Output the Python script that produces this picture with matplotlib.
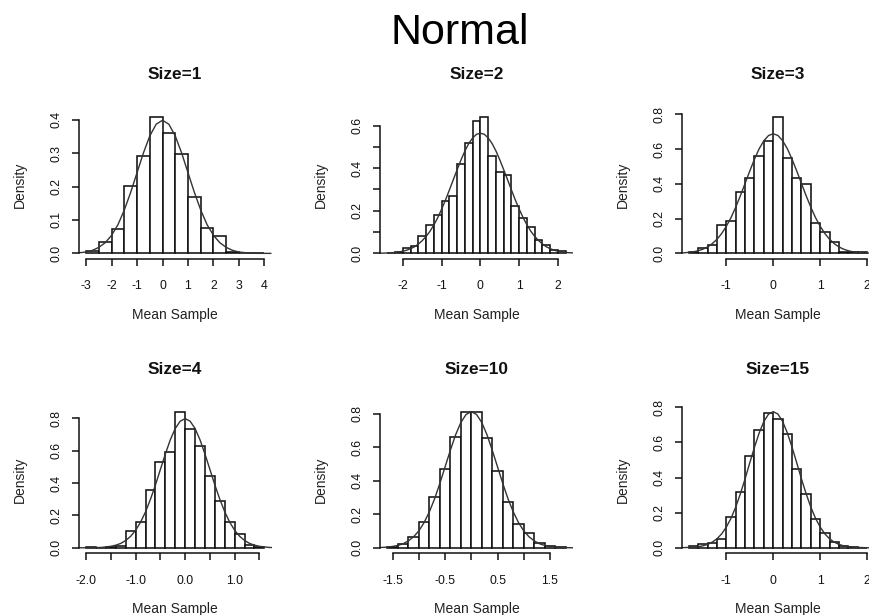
import numpy as np
import matplotlib.pyplot as plt

plt.rcParams['font.family'] = ['Liberation Sans', 'DejaVu Sans']

W, H = 869, 615

main_title = "Normal"
sizes = [1, 2, 3, 4, 10, 15]

# histogram bins: first edge and width, densities
bin_start = [-3.0, -2.4, -1.8, -2.0, -1.6, -1.8]
bin_width = [0.5, 0.2, 0.2, 0.2, 0.2, 0.2]

dens_1 = [0.008, 0.033, 0.072, 0.201, 0.291, 0.408, 0.360, 0.298, 0.170, 0.075,
          0.051, 0.003, 0.0, 0.002]
dens_2 = [0.003, 0.006, 0.025, 0.036, 0.080, 0.132, 0.180, 0.248, 0.271, 0.419,
          0.519, 0.621, 0.639, 0.458, 0.382, 0.369, 0.220, 0.165, 0.125, 0.064,
          0.040, 0.017, 0.011]
dens_3 = [0.008, 0.032, 0.046, 0.164, 0.189, 0.354, 0.436, 0.558, 0.648, 0.783,
          0.547, 0.436, 0.400, 0.177, 0.122, 0.067, 0.010, 0.008, 0.006]
dens_4 = [0.006, 0.0, 0.006, 0.010, 0.103, 0.161, 0.355, 0.532, 0.590, 0.841,
          0.732, 0.629, 0.443, 0.291, 0.161, 0.082, 0.016, 0.006]
dens_5 = [0.006, 0.022, 0.066, 0.156, 0.301, 0.471, 0.665, 0.814, 0.814, 0.659,
          0.459, 0.271, 0.144, 0.086, 0.026, 0.010, 0.003]
dens_6 = [0.010, 0.019, 0.029, 0.048, 0.177, 0.320, 0.524, 0.669, 0.768, 0.735,
          0.650, 0.450, 0.307, 0.162, 0.082, 0.034, 0.008, 0.004, 0.0]

# density curves at regular x steps
curve_start = [-3.25, -2.6, -2.0, -2.2, -1.8, -2.0]
curve_step = [0.25, 0.1, 0.1, 0.1, 0.1, 0.1]

curve_1 = [0.002, 0.004, 0.009, 0.018, 0.032, 0.054, 0.086, 0.130, 0.183, 0.242,
           0.301, 0.352, 0.387, 0.399, 0.387, 0.352, 0.301, 0.242, 0.183, 0.130,
           0.086, 0.054, 0.032, 0.018, 0.009, 0.004, 0.002, 0.001, 0.000, 0.000,
           0.000]
curve_2 = [0.001, 0.001, 0.002, 0.003, 0.004, 0.007, 0.010, 0.015, 0.022, 0.031,
           0.044, 0.060, 0.080, 0.104, 0.134, 0.168, 0.208, 0.251, 0.298, 0.346,
           0.393, 0.439, 0.481, 0.516, 0.542, 0.559, 0.564, 0.559, 0.542, 0.516,
           0.481, 0.439, 0.393, 0.346, 0.298, 0.251, 0.208, 0.168, 0.134, 0.104,
           0.080, 0.060, 0.044, 0.031, 0.022, 0.015, 0.010, 0.007, 0.004, 0.003,
           0.002]
curve_3 = [0.002, 0.003, 0.006, 0.009, 0.015, 0.024, 0.037, 0.056, 0.081, 0.114,
           0.156, 0.206, 0.266, 0.332, 0.403, 0.474, 0.542, 0.602, 0.648, 0.678,
           0.688, 0.678, 0.648, 0.602, 0.542, 0.474, 0.403, 0.332, 0.266, 0.206,
           0.156, 0.114, 0.081, 0.056, 0.037, 0.024, 0.015, 0.009, 0.006, 0.003,
           0.002, 0.001, 0.001]
curve_4 = [0.000, 0.000, 0.000, 0.001, 0.001, 0.002, 0.005, 0.009, 0.016, 0.027,
           0.045, 0.071, 0.108, 0.158, 0.222, 0.300, 0.388, 0.484, 0.579, 0.667,
           0.737, 0.782, 0.798, 0.782, 0.737, 0.667, 0.579, 0.484, 0.388, 0.300,
           0.222, 0.158, 0.108, 0.071, 0.045, 0.027, 0.016, 0.009, 0.005, 0.002,
           0.001]
curve_5 = [0.001, 0.002, 0.004, 0.008, 0.014, 0.024, 0.041, 0.066, 0.101, 0.151,
           0.215, 0.293, 0.385, 0.484, 0.583, 0.675, 0.749, 0.797, 0.814, 0.797,
           0.749, 0.675, 0.583, 0.484, 0.385, 0.293, 0.215, 0.151, 0.101, 0.066,
           0.041, 0.024, 0.014, 0.008, 0.004, 0.002, 0.001, 0.000, 0.000]
curve_6 = [0.000, 0.001, 0.002, 0.003, 0.006, 0.011, 0.019, 0.032, 0.051, 0.079,
           0.118, 0.168, 0.232, 0.308, 0.393, 0.484, 0.573, 0.654, 0.719, 0.761,
           0.775, 0.761, 0.719, 0.654, 0.573, 0.484, 0.393, 0.308, 0.232, 0.168,
           0.118, 0.079, 0.051, 0.032, 0.019, 0.011, 0.006, 0.003, 0.002, 0.001,
           0.000, 0.000, 0.000]

# tick positions and labels (R drops labels that would overlap)
xticks = [[-3, -2, -1, 0, 1, 2, 3, 4],
          [-2, -1, 0, 1, 2],
          [-1, 0, 1, 2],
          [-2.0, -1.5, -1.0, -0.5, 0.0, 0.5, 1.0, 1.5],
          [-1.5, -1.0, -0.5, 0.0, 0.5, 1.0, 1.5],
          [-1, 0, 1, 2]]
xlabels = [['-3', '-2', '-1', '0', '1', '2', '3', '4'],
           ['-2', '-1', '0', '1', '2'],
           ['-1', '0', '1', '2'],
           ['-2.0', '', '-1.0', '', '0.0', '', '1.0', ''],
           ['-1.5', '', '-0.5', '', '0.5', '', '1.5'],
           ['-1', '0', '1', '2']]
yticks = [[0.0, 0.1, 0.2, 0.3, 0.4],
          [0.0, 0.1, 0.2, 0.3, 0.4, 0.5, 0.6],
          [0.0, 0.2, 0.4, 0.6, 0.8],
          [0.0, 0.2, 0.4, 0.6, 0.8],
          [0.0, 0.2, 0.4, 0.6, 0.8],
          [0.0, 0.2, 0.4, 0.6, 0.8]]
ylabels = [['0.0', '0.1', '0.2', '0.3', '0.4'],
           ['0.0', '', '0.2', '', '0.4', '', '0.6'],
           ['0.0', '0.2', '0.4', '0.6', '0.8'],
           ['0.0', '0.2', '0.4', '0.6', '0.8'],
           ['0.0', '0.2', '0.4', '0.6', '0.8'],
           ['0.0', '0.2', '0.4', '0.6', '0.8']]

densities = [dens_1, dens_2, dens_3, dens_4, dens_5, dens_6]
curves = [curve_1, curve_2, curve_3, curve_4, curve_5, curve_6]

# layout in pixels (plot regions)
col_left = [79, 380.3, 681.7]
row_top = [111.8, 406.2]
pw, ph = 192.5, 147

fig = plt.figure(figsize=(W / 100, H / 100), dpi=100)
fig.text(460 / W, 1 - 44 / H, main_title, ha='center', va='baseline', fontsize=31)

for i in range(6):
    r, c = divmod(i, 3)
    left, top = col_left[c], row_top[r]
    ax = fig.add_axes([left / W, 1 - (top + ph) / H, pw / W, ph / H])

    dens = densities[i]
    edges = bin_start[i] + bin_width[i] * np.arange(len(dens) + 1)
    ax.bar(edges[:-1], dens, width=bin_width[i], align='edge',
           facecolor='white', edgecolor='#111111', linewidth=1.15)

    cy = curves[i]
    cx = curve_start[i] + curve_step[i] * np.arange(len(cy))
    ax.plot(cx, cy, color='#333333', lw=1.0)

    # R style limits: 4% extension of the data range
    lo, hi = edges[0], edges[-1]
    ext = 0.04 * (hi - lo)
    ax.set_xlim(lo - ext, hi + ext)
    ymax = max(max(dens), max(cy))
    ax.set_ylim(-0.04 * ymax, 1.04 * ymax)

    ax.set_xticks(xticks[i], xlabels[i])
    ax.set_yticks(yticks[i], ylabels[i], rotation=90, va='center')
    ax.tick_params(axis='x', length=5, width=1.1, pad=10.5, labelsize=8.8,
                   color='#111111', labelcolor='#111111')
    ax.tick_params(axis='y', length=5, width=1.1, pad=7, labelsize=8.8,
                   color='#111111', labelcolor='#111111')

    for s in ['top', 'right']:
        ax.spines[s].set_visible(False)
    ax.spines['left'].set_bounds(yticks[i][0], yticks[i][-1])
    ax.spines['bottom'].set_bounds(xticks[i][0], xticks[i][-1])
    for s in ['left', 'bottom']:
        ax.spines[s].set_linewidth(1.1)
        ax.spines[s].set_color('#111111')
    ax.patch.set_visible(False)

    cxp = left + pw / 2
    fig.text(cxp / W, 1 - (top - 37) / H, f"Size={sizes[i]}", ha='center',
             va='center', fontsize=12.4, fontweight='bold', color='#111111')
    fig.text(cxp / W, 1 - (top + ph + 56) / H, "Mean Sample", ha='center',
             va='center', fontsize=10, color='#222222')
    fig.text((left - 59) / W, 1 - (top + ph / 2) / H, "Density", ha='center',
             va='center', rotation=90, fontsize=10, color='#222222')

fig.savefig('out.png', dpi=100)
